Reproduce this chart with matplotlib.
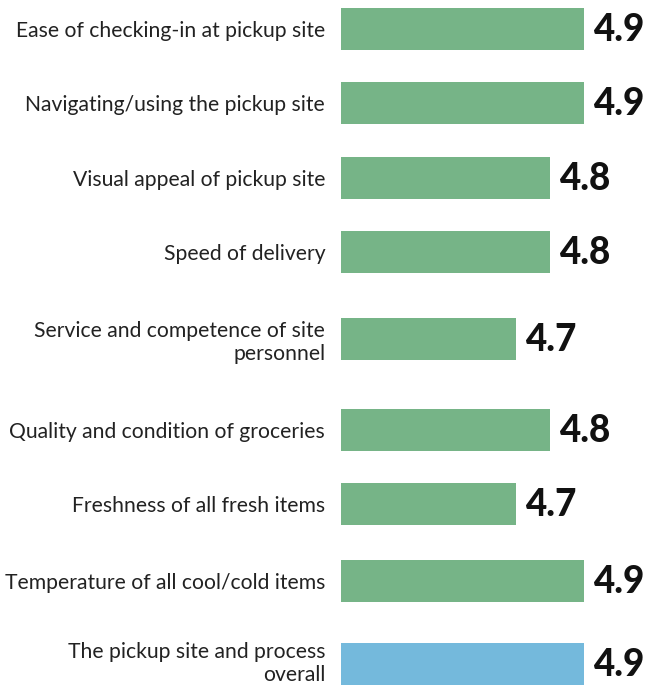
import numpy as np
import matplotlib
matplotlib.use('Agg')
import matplotlib.pyplot as plt
from matplotlib.transforms import ScaledTranslation

plt.rcParams['font.family'] = ['Lato', 'DejaVu Sans']

# Satisfaction ratings, top to bottom
items = ['Ease of checking-in at pickup site',
         'Navigating/using the pickup site',
         'Visual appeal of pickup site',
         'Speed of delivery',
         'Service and competence of site\npersonnel',
         'Quality and condition of groceries',
         'Freshness of all fresh items',
         'Temperature of all cool/cold items',
         'The pickup site and process\noverall']
scores = [4.9, 4.9, 4.8, 4.8, 4.7, 4.8, 4.7, 4.9, 4.9]
colors = ['#76B487'] * 8 + ['#74B9DC']

# row centres in pixels from the top (wrapped labels get a little more room)
ypos = [29, 103, 178, 252, 339, 430, 504, 581, 664]

W, H = 647, 686
fig = plt.figure(figsize=(W / 100, H / 100), dpi=100)
x0 = 340.5
ax = fig.add_axes([x0 / W, 0, 1 - x0 / W, 1])

px_per_unit = 340.0
xmin = 4.9 - (584 - x0) / px_per_unit
xmax = 4.9 + (W - 584) / px_per_unit

ax.barh(ypos, scores, height=42, color=colors, left=0)
ax.set_xlim(xmin, xmax)
ax.set_ylim(H, 0)

for y, s in zip(ypos, scores):
    ax.text(s + 9 / px_per_unit, y + 1, f'{s:.1f}', va='center', ha='left',
            fontsize=26.5, fontweight='black', color='#111111')

ax.set_yticks(ypos)
ax.set_yticklabels(items, fontsize=15.2, color='#222222', linespacing=1.18)
ax.tick_params(axis='y', length=0, pad=11)
ax.set_xticks([])
for sp in ax.spines.values():
    sp.set_visible(False)

# lift the bottom label slightly so its descenders stay inside the figure
last = ax.get_yticklabels()[-1]
last.set_transform(last.get_transform() + ScaledTranslation(0, 0.04, fig.dpi_scale_trans))

fig.savefig('out.png', dpi=100)
